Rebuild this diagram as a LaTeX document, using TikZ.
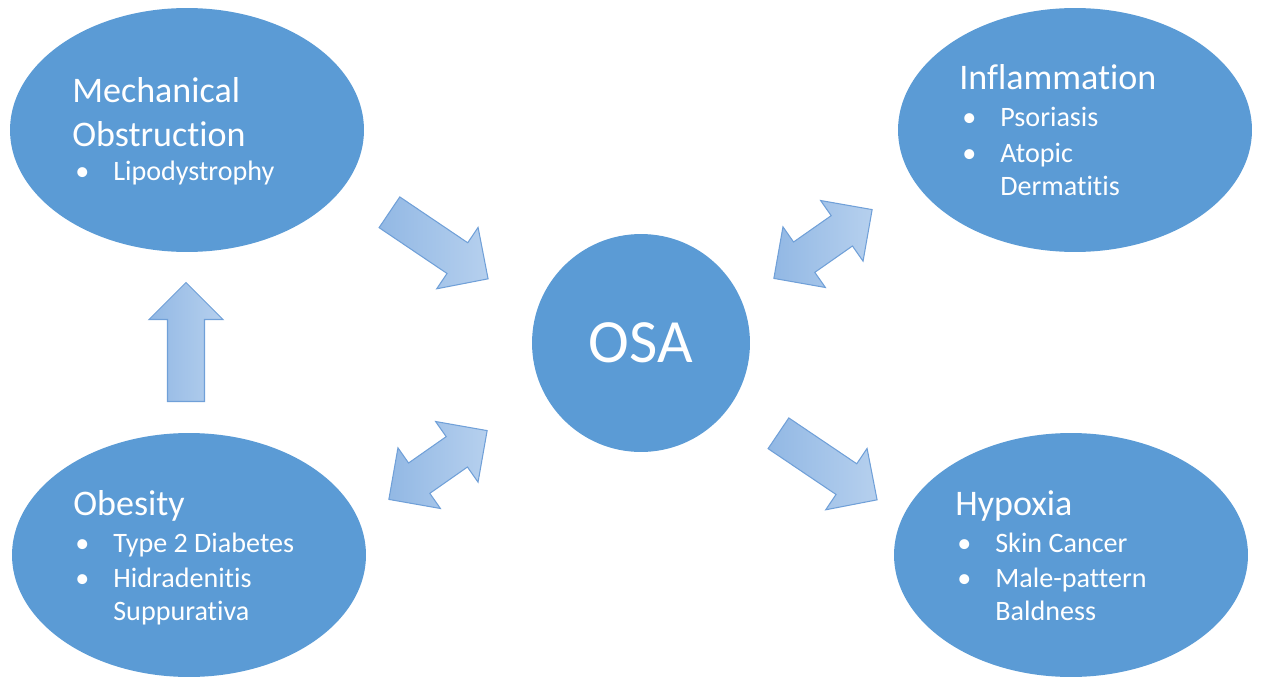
\documentclass[tikz,border=0pt]{standalone}
\usepackage{fontspec}
\setmainfont[Ligatures={NoCommon,NoContextual}]{Carlito}
\usepackage{tikz}
\usetikzlibrary{shapes.geometric,shapes.arrows}

\definecolor{osablue}{RGB}{91,155,213}
\definecolor{arrowdark}{RGB}{146,184,228}
\definecolor{arrowlight}{RGB}{182,208,238}
\definecolor{arrowline}{RGB}{112,160,216}

\newcommand{\bul}{\makebox[0.76cm][l]{\textbullet}}
\newcommand{\nobul}{\hspace*{0.76cm}}

\begin{document}
\begin{tikzpicture}[x=0.02cm, y=-0.02cm,
  blob/.style={ellipse, fill=osablue, minimum width=7.08cm, minimum height=4.88cm, inner sep=0pt},
  hub/.style={circle, fill=osablue, minimum size=4.36cm, inner sep=0pt, text=white, font=\fontsize{35}{42}\selectfont},
  head/.style={anchor=base west, inner sep=0pt, text=white, font=\fontsize{20.5}{24}\selectfont},
  item/.style={anchor=base west, inner sep=0pt, text=white, font=\fontsize{16}{19}\selectfont},
  onearrow/.style={single arrow, anchor=tail, draw=arrowline, line width=0.6pt, left color=arrowdark, right color=arrowlight,
    single arrow head extend=0.37cm, inner xsep=0pt, inner ysep=0.36cm, minimum height=2.38cm, minimum width=1.46cm},
  twoarrow/.style={double arrow, draw=arrowline, line width=0.6pt, left color=arrowdark, right color=arrowlight,
    double arrow head extend=0.37cm, inner xsep=0pt, inner ysep=0.36cm, minimum height=2.4cm, minimum width=1.46cm}]

  \useasboundingbox (0,0) rectangle (1261,679);

  % the four groups and the hub
  \node[blob] (mech) at (187,130) {};
  \node[blob] (infl) at (1075,130) {};
  \node[blob] (obes) at (189,555) {};
  \node[blob] (hypo) at (1071,555) {};
  \node[hub] (osa) at (641,343) {OSA};

  % block arrows
  \node[onearrow, rotate=-34] (mech-osa) at (389,212) {};
  \node[onearrow, shape border rotate=90, inner xsep=0.36cm, inner ysep=0pt] (obes-mech) at (186,402) {};
  \node[onearrow, rotate=-34] (osa-hypo) at (778,433) {};
  \node[twoarrow, rotate=35] (obes-osa) at (438,465) {};
  \node[twoarrow, rotate=35] (osa-infl) at (823,244) {};

  % texts
  \node[head] (mech1) at (72,103) {Mechanical};
  \node[head] (mech2) at (72,147) {Obstruction};
  \node[item] (mech3) at (75,180) {\bul Lipodystrophy};

  \node[head] (infl1) at (959,90) {Inflammation};
  \node[item] (infl2) at (962,127) {\bul Psoriasis};
  \node[item] (infl3) at (962,162) {\bul Atopic};
  \node[item] (infl4) at (962,195) {\nobul Dermatitis};

  \node[head] (obes1) at (73,515) {Obesity};
  \node[item] (obes2) at (75,552) {\bul Type 2 Diabetes};
  \node[item] (obes3) at (75,587) {\bul Hidradenitis};
  \node[item] (obes4) at (75,620) {\nobul Suppurativa};

  \node[head] (hypo1) at (955,515) {Hypoxia};
  \node[item] (hypo2) at (957,552) {\bul Skin Cancer};
  \node[item] (hypo3) at (957,587) {\bul Male-pattern};
  \node[item] (hypo4) at (957,620) {\nobul Baldness};
\end{tikzpicture}
\end{document}
